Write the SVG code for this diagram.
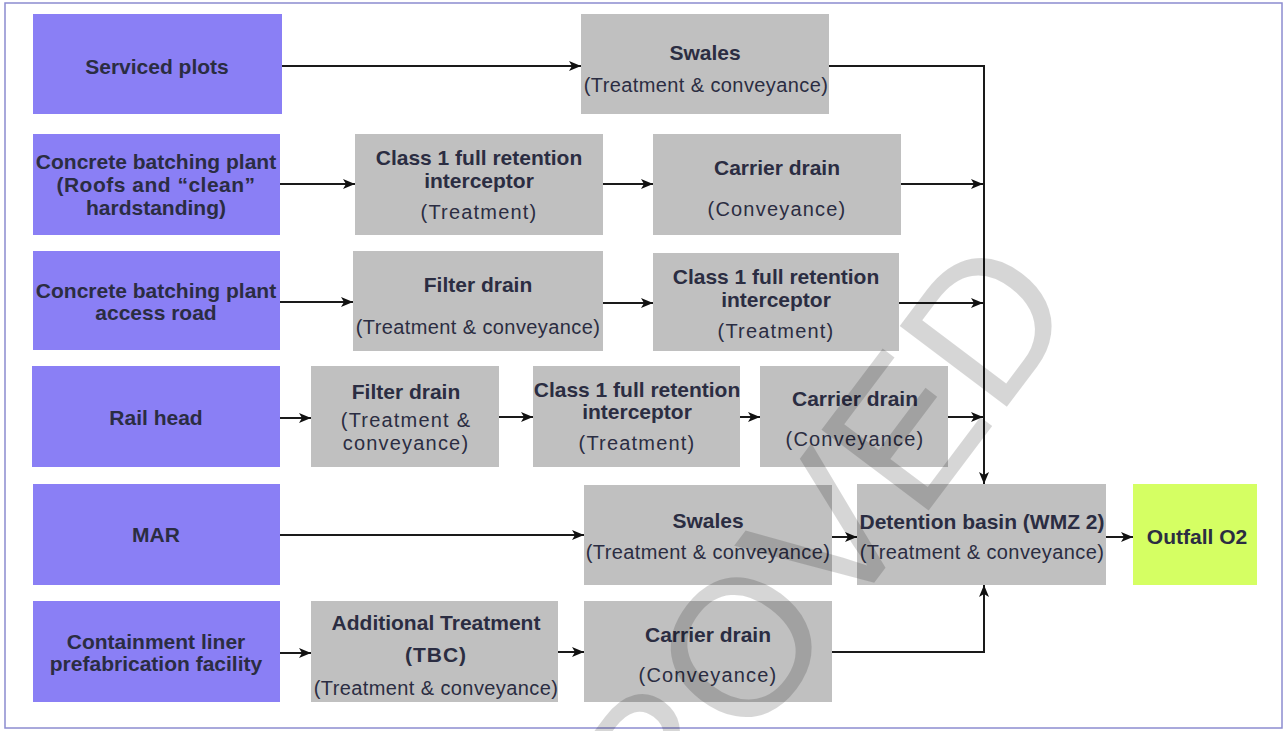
<svg xmlns="http://www.w3.org/2000/svg" width="1284" height="731" viewBox="0 0 1284 731">
<style>
.src{fill:#8A7FF5}
.proc{fill:#C0C0C0}
.out{fill:#D5FF63}
text{font-family:"Liberation Sans",Arial,sans-serif;fill:#2b2d42;text-anchor:middle}
.t{font-size:21px;font-weight:bold}
.s{font-size:20px;letter-spacing:0.4px}
.sw{font-size:20px;letter-spacing:1.2px}
.c{fill:none;stroke:#1a1a1a;stroke-width:2}
</style>
<defs>
<marker id="ah" markerUnits="userSpaceOnUse" markerWidth="12" markerHeight="10" refX="12" refY="5" orient="auto">
<path d="M0,0 L12,5 L0,10 L3,5 z" fill="#111"/>
</marker>
</defs>
<rect x="0" y="0" width="1284" height="731" fill="#fff"/>
<rect x="5" y="3" width="1277" height="725" fill="none" stroke="#8c8cd0" stroke-width="1.5"/>

<g id="serviced-plots"><rect class="src" x="33" y="14" width="249" height="100"/><text class="t" x="157" y="74">Serviced plots</text></g>
<g id="cbp-roofs"><rect class="src" x="33" y="134" width="247" height="101"/><text class="t" x="156" y="169">Concrete batching plant</text><text class="t" x="156" y="192" letter-spacing="0.5">(Roofs and “clean”</text><text class="t" x="156" y="215">hardstanding)</text></g>
<g id="cbp-road"><rect class="src" x="33" y="251" width="247" height="99"/><text class="t" x="156" y="298">Concrete batching plant</text><text class="t" x="156" y="320">access road</text></g>
<g id="rail-head"><rect class="src" x="32" y="366" width="248" height="101"/><text class="t" x="156" y="425">Rail head</text></g>
<g id="mar"><rect class="src" x="33" y="484" width="247" height="101"/><text class="t" x="156" y="542">MAR</text></g>
<g id="containment"><rect class="src" x="33" y="601" width="247" height="101"/><text class="t" x="156" y="649">Containment liner</text><text class="t" x="156" y="671">prefabrication facility</text></g>

<g id="swales-1"><rect class="proc" x="581" y="14" width="248" height="100"/><text class="t" x="705" y="60">Swales</text><text class="s" x="706" y="92">(Treatment &amp; conveyance)</text></g>
<g id="class1-r2"><rect class="proc" x="355" y="134" width="248" height="101"/><text class="t" x="479" y="165">Class 1 full retention</text><text class="t" x="479" y="188">interceptor</text><text class="sw" x="479" y="219">(Treatment)</text></g>
<g id="carrier-r2"><rect class="proc" x="653" y="134" width="248" height="101"/><text class="t" x="777" y="175">Carrier drain</text><text class="sw" x="777" y="216">(Conveyance)</text></g>
<g id="filter-r3"><rect class="proc" x="353" y="251" width="250" height="100"/><text class="t" x="478" y="292">Filter drain</text><text class="s" x="478" y="334">(Treatment &amp; conveyance)</text></g>
<g id="class1-r3"><rect class="proc" x="653" y="253" width="246" height="98"/><text class="t" x="776" y="284">Class 1 full retention</text><text class="t" x="776" y="307">interceptor</text><text class="sw" x="776" y="338">(Treatment)</text></g>
<g id="filter-r4"><rect class="proc" x="311" y="366" width="188" height="101"/><text class="t" x="406" y="399">Filter drain</text><text class="sw" x="406" y="427">(Treatment &amp;</text><text class="sw" x="406" y="450">conveyance)</text></g>
<g id="class1-r4"><rect class="proc" x="533" y="366" width="207" height="101"/><text class="t" x="637" y="397">Class 1 full retention</text><text class="t" x="637" y="419">interceptor</text><text class="sw" x="637" y="450">(Treatment)</text></g>
<g id="carrier-r4"><rect class="proc" x="760" y="366" width="188" height="101"/><text class="t" x="855" y="406">Carrier drain</text><text class="sw" x="855" y="446">(Conveyance)</text></g>
<g id="swales-5"><rect class="proc" x="584" y="485" width="248" height="100"/><text class="t" x="708" y="528">Swales</text><text class="s" x="708" y="559">(Treatment &amp; conveyance)</text></g>
<g id="detention"><rect class="proc" x="857" y="484" width="249" height="101"/><text class="t" x="982" y="529">Detention basin (WMZ 2)</text><text class="s" x="982" y="559">(Treatment &amp; conveyance)</text></g>
<g id="outfall"><rect class="out" x="1133" y="484" width="124" height="101"/><text class="t" x="1197" y="544">Outfall O2</text></g>
<g id="additional"><rect class="proc" x="311" y="601" width="247" height="101"/><text class="t" x="436" y="630">Additional Treatment</text><text class="t" x="436" y="662" letter-spacing="1">(TBC)</text><text class="s" x="436" y="695">(Treatment &amp; conveyance)</text></g>
<g id="carrier-r6"><rect class="proc" x="584" y="601" width="248" height="101"/><text class="t" x="708" y="642">Carrier drain</text><text class="sw" x="708" y="682">(Conveyance)</text></g>

<g id="connectors">
<path class="c" d="M282,66 H581" marker-end="url(#ah)"/>
<path class="c" d="M829,66 H984 V484" marker-end="url(#ah)"/>
<path class="c" d="M280,184 H355" marker-end="url(#ah)"/>
<path class="c" d="M603,184 H653" marker-end="url(#ah)"/>
<path class="c" d="M901,184 H983" marker-end="url(#ah)"/>
<path class="c" d="M280,302 H353" marker-end="url(#ah)"/>
<path class="c" d="M603,303 H653" marker-end="url(#ah)"/>
<path class="c" d="M899,303 H983" marker-end="url(#ah)"/>
<path class="c" d="M280,418 H311" marker-end="url(#ah)"/>
<path class="c" d="M499,417 H533" marker-end="url(#ah)"/>
<path class="c" d="M740,417 H760" marker-end="url(#ah)"/>
<path class="c" d="M948,417 H983" marker-end="url(#ah)"/>
<path class="c" d="M280,535 H584" marker-end="url(#ah)"/>
<path class="c" d="M832,537 H857" marker-end="url(#ah)"/>
<path class="c" d="M1106,537 H1133" marker-end="url(#ah)"/>
<path class="c" d="M280,653 H311" marker-end="url(#ah)"/>
<path class="c" d="M558,652 H584" marker-end="url(#ah)"/>
<path class="c" d="M832,652 H984 V585" marker-end="url(#ah)"/>
</g>

<text transform="translate(1082,307) rotate(-53)" style="text-anchor:end;font-size:195px;fill:#000;fill-opacity:0.16;font-family:'Liberation Sans',Arial,sans-serif">APPROVED</text>
</svg>
